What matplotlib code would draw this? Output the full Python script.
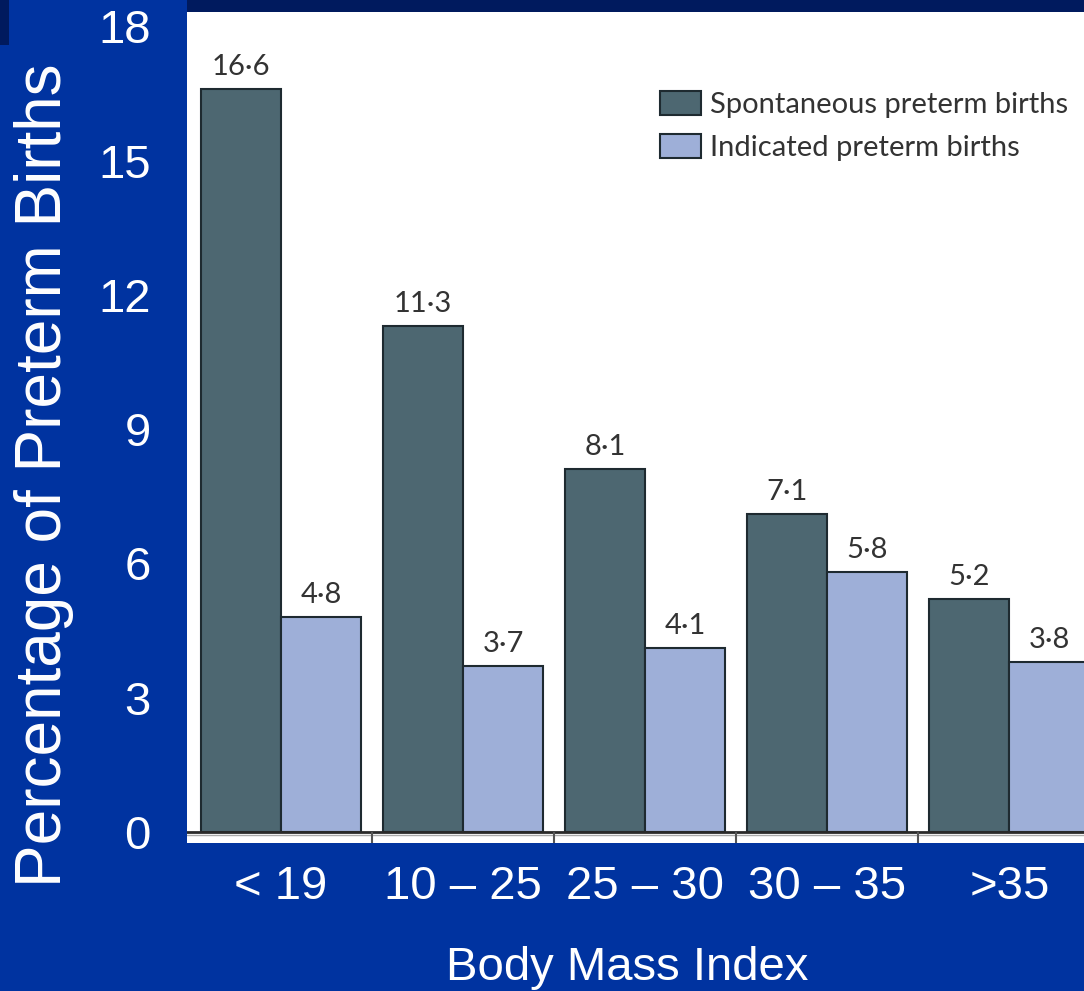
import matplotlib.pyplot as plt
import numpy as np
from matplotlib.patches import Rectangle

# data
categories = ['< 19', '10 \u2013 25', '25 \u2013 30', '30 \u2013 35', '>35']
spontaneous = [16.6, 11.3, 8.1, 7.1, 5.2]
indicated = [4.8, 3.7, 4.1, 5.8, 3.8]
yticks = [0, 3, 6, 9, 12, 15, 18]

BLUE = '#0033a0'
NAVY = '#001a5e'
DARK = '#4d6771'
LIGHT = '#9eafd8'

W, H = 1084, 991
fig = plt.figure(figsize=(W / 100, H / 100), dpi=100, facecolor=BLUE)

# navy strips at the top
fig.add_artist(Rectangle((187 / W, 1 - 12 / H), 1, 12 / H, transform=fig.transFigure,
                         color=NAVY, lw=0))
fig.add_artist(Rectangle((0, 1 - 45 / H), 9 / W, 45 / H, transform=fig.transFigure,
                         color=NAVY, lw=0))

ax = fig.add_axes([187 / W, (H - 843) / H, (W - 187) / W, (843 - 12) / H])
ax.set_facecolor('white')
for s in ax.spines.values():
    s.set_visible(False)

x = np.arange(len(categories))
bw = 0.44
b1 = ax.bar(x - bw / 2, spontaneous, bw, color=DARK, edgecolor='#1e2a30', lw=1.5,
            label='Spontaneous preterm births')
b2 = ax.bar(x + bw / 2, indicated, bw, color=LIGHT, edgecolor='#1e2a30', lw=1.5,
            label='Indicated preterm births')

for bars, vals in ((b1, spontaneous), (b2, indicated)):
    for r, v in zip(bars, vals):
        ax.text(r.get_x() + r.get_width() / 2, v + 0.2, f'{v:.1f}'.replace('.', '\u00b7'),
                ha='center', va='bottom', fontsize=21, color='#333333', family='Lato')

ax.set_xlim(-0.516, 4.41)
ax.set_ylim(-0.25, 18.32)

# baseline and group separators
ax.axhline(0, color='#2a2a2a', lw=2)
ax.axhline(-0.07, color='#aaaaaa', lw=1)
ax.vlines(x[:-1] + 0.5, -0.25, 0, color='#555555', lw=1.5)

ax.set_xticks(x)
ax.set_xticklabels(categories)
ax.set_yticks(yticks)
ax.tick_params(axis='both', length=0, colors='white', labelsize=34)
ax.tick_params(axis='x', pad=16)
ax.tick_params(axis='y', pad=26)
for lab in ax.get_xticklabels() + ax.get_yticklabels():
    lab.set_family('Liberation Sans')

leg = ax.legend(loc='upper right', bbox_to_anchor=(1.005, 0.93), frameon=False,
                prop={'family': 'Lato', 'size': 21}, handlelength=1.4,
                handleheight=0.9, handletextpad=0.3, labelspacing=0.55,
                borderaxespad=0.3)
for t in leg.get_texts():
    t.set_color('#333333')

fig.text(627 / W, 1 - 968 / H, 'Body Mass Index', ha='center', va='center',
         color='white', fontsize=34, family='Liberation Sans')
fig.text(44 / W, 1 - 475 / H, 'Percentage of Preterm Births', ha='center', va='center',
         rotation=90, color='white', fontsize=46, family='Liberation Sans')

fig.savefig('out.png', dpi=100, facecolor=BLUE)
